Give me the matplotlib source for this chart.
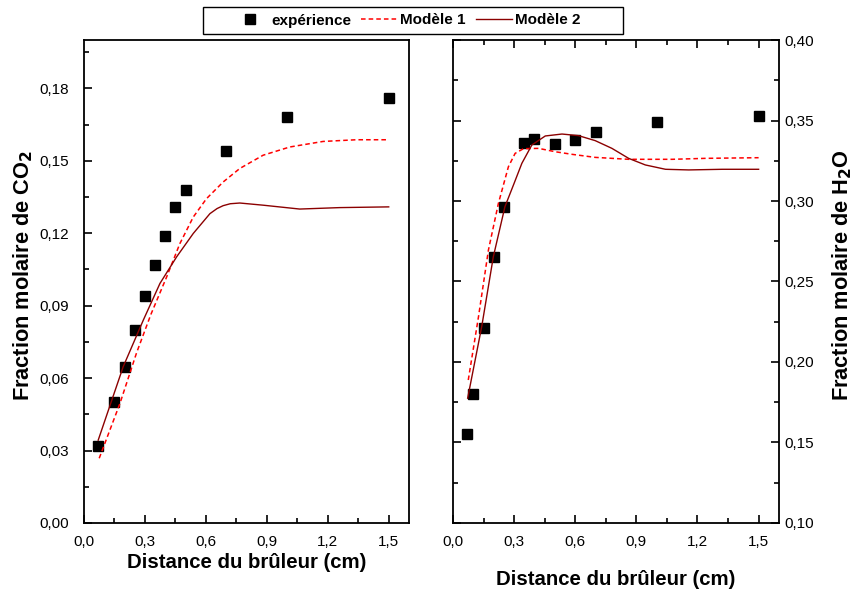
import matplotlib
matplotlib.use("Agg")
import matplotlib.pyplot as plt
from matplotlib.patches import Rectangle
from matplotlib.ticker import FuncFormatter, MultipleLocator

plt.rcParams["font.family"] = ["Liberation Sans", "DejaVu Sans"]

# CO2 (left panel)
co2_exp_x = [0.07, 0.15, 0.20, 0.25, 0.30, 0.35, 0.40, 0.45, 0.50, 0.70, 1.00, 1.50]
co2_exp_y = [0.032, 0.050, 0.0645, 0.080, 0.094, 0.107, 0.119, 0.131, 0.138, 0.154, 0.168, 0.176]
co2_m1_x = [0.075, 0.177, 0.259, 0.33, 0.407, 0.472, 0.538, 0.603, 0.685, 0.767, 0.882,
            1.013, 1.177, 1.341, 1.50]
co2_m1_y = [0.0268, 0.0495, 0.0705, 0.0865, 0.1019, 0.1157, 0.1267, 0.1343, 0.1412, 0.1468,
            0.1523, 0.1557, 0.1580, 0.1587, 0.1587]
co2_m2_x = [0.07, 0.193, 0.292, 0.374, 0.456, 0.538, 0.620, 0.655, 0.685, 0.72, 0.767, 0.882,
            1.062, 1.259, 1.50]
co2_m2_y = [0.0343, 0.0647, 0.084, 0.0992, 0.1102, 0.1199, 0.1281, 0.1302, 0.1314, 0.1322,
            0.1325, 0.1316, 0.1300, 0.1306, 0.1309]

# H2O (right panel)
h2o_exp_x = [0.07, 0.10, 0.15, 0.20, 0.25, 0.35, 0.40, 0.50, 0.60, 0.70, 1.00, 1.50]
h2o_exp_y = [0.155, 0.180, 0.221, 0.265, 0.296, 0.336, 0.3385, 0.3355, 0.338, 0.343, 0.349, 0.353]
h2o_m1_x = [0.075, 0.125, 0.174, 0.223, 0.272, 0.305, 0.346, 0.42, 0.502, 0.584, 0.698,
            0.862, 1.076, 1.24, 1.50]
h2o_m1_y = [0.1888, 0.228, 0.2696, 0.2986, 0.3213, 0.3296, 0.3325, 0.3327, 0.3306, 0.329,
            0.3271, 0.3259, 0.3259, 0.3265, 0.3269]
h2o_m2_x = [0.072, 0.141, 0.198, 0.255, 0.30, 0.338, 0.387, 0.453, 0.535, 0.616, 0.698,
            0.78, 0.862, 0.944, 1.043, 1.157, 1.322, 1.50]
h2o_m2_y = [0.1775, 0.222, 0.2654, 0.2965, 0.311, 0.3234, 0.3348, 0.3404, 0.3416, 0.3406,
            0.3375, 0.3327, 0.3265, 0.3224, 0.3197, 0.3193, 0.3197, 0.3197]

LINE1 = "#ff0000"
LINE2 = "#8b0000"
W, H = 864, 592


def comma(fmt):
    return FuncFormatter(lambda v, _: (fmt % v).replace(".", ","))


def style_axes(ax, ymajor, yminor):
    ax.set_xlim(0, 1.6)
    ax.xaxis.set_major_locator(MultipleLocator(0.3))
    ax.xaxis.set_minor_locator(MultipleLocator(0.15))
    ax.xaxis.set_major_formatter(comma("%.1f"))
    ax.yaxis.set_major_locator(MultipleLocator(ymajor))
    ax.yaxis.set_minor_locator(MultipleLocator(yminor))
    ax.yaxis.set_major_formatter(comma("%.2f"))
    ax.tick_params(which="major", direction="in", length=6, width=1.2, labelsize=11)
    ax.tick_params(which="minor", direction="in", length=3.5, width=1.2)
    ax.tick_params(axis="x", which="major", pad=9)
    for sp in ax.spines.values():
        sp.set_linewidth(1.3)


fig = plt.figure(figsize=(W / 100, H / 100), dpi=100)
ax1 = fig.add_axes([0.0972, 0.1166, 0.3762, 0.8158])
ax2 = fig.add_axes([0.5243, 0.1166, 0.3773, 0.8158])

h_exp, = ax1.plot(co2_exp_x, co2_exp_y, "s", color="black", markersize=7.5, label="expérience")
h_m1, = ax1.plot(co2_m1_x, co2_m1_y, color=LINE1, lw=1.1, dashes=(3, 2), label="Modèle 1")
h_m2, = ax1.plot(co2_m2_x, co2_m2_y, color=LINE2, lw=1.0, label="Modèle 2")
style_axes(ax1, 0.03, 0.015)
ax1.set_ylim(0, 0.20)
ax1.tick_params(axis="both", which="both", top=False, right=False)
ax1.tick_params(axis="y", which="major", pad=11)
ax1.set_xlabel("Distance du brûleur (cm)", fontsize=14.7, fontweight="bold")
ax1.xaxis.set_label_coords(0.5, -0.062)
ax1.set_ylabel("Fraction molaire de CO$_\\mathbf{2}$", fontsize=15.7, fontweight="bold")
ax1.yaxis.set_label_coords(-0.150, 0.513)

ax2.plot(h2o_exp_x, h2o_exp_y, "s", color="black", markersize=7.5)
ax2.plot(h2o_m1_x, h2o_m1_y, color=LINE1, lw=1.1, dashes=(3, 2))
ax2.plot(h2o_m2_x, h2o_m2_y, color=LINE2, lw=1.0)
style_axes(ax2, 0.05, 0.025)
ax2.set_ylim(0.10, 0.40)
ax2.tick_params(axis="both", which="both", top=True, right=True, left=True,
                labelleft=False, labelright=True)
ax2.tick_params(axis="y", which="major", pad=4)
ax2.yaxis.set_label_position("right")
ax2.set_xlabel("Distance du brûleur (cm)", fontsize=14.7, fontweight="bold")
ax2.xaxis.set_label_coords(0.5, -0.098)
ax2.set_ylabel("Fraction molaire de H$_\\mathbf{2}$O", fontsize=15.7, fontweight="bold")
ax2.yaxis.set_label_coords(1.158, 0.513)

# legend box spanning both panels
fig.patches.append(Rectangle((203 / W, 1 - 34 / H), 420 / W, 27 / H, transform=fig.transFigure,
                             facecolor="white", edgecolor="black", lw=1.0))
fig.legend(handles=[h_exp, h_m1, h_m2], loc="center left", bbox_to_anchor=(232 / W, 1 - 20.5 / H),
           ncol=3, frameon=False, prop={"weight": "bold", "size": 11}, handlelength=2.35,
           columnspacing=0.65, handletextpad=0.22, borderpad=0, borderaxespad=0)

fig.savefig("out.png", dpi=100)
